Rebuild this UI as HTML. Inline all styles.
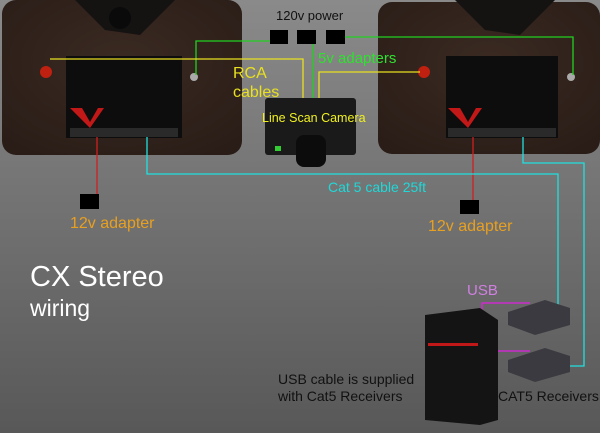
<!DOCTYPE html>
<html><head><style>body{margin:0;background:#6e6e6e}svg{display:block}</style></head><body>
<svg width="600" height="433" xmlns="http://www.w3.org/2000/svg" font-family="Liberation Sans, sans-serif">
<defs>
<linearGradient id="bg" x1="0" y1="0" x2="0" y2="1"><stop offset="0" stop-color="#8a8a8a"/><stop offset="1" stop-color="#585858"/></linearGradient>
<radialGradient id="dev" cx="0.5" cy="0.4" r="0.7"><stop offset="0" stop-color="#3a2a22"/><stop offset="1" stop-color="#2a1d17"/></radialGradient>
</defs>
<rect width="600" height="433" fill="url(#bg)"/>
<!-- left device -->
<rect x="2" y="0" width="240" height="155" rx="14" fill="url(#dev)"/>
<rect x="66" y="56" width="116" height="82" fill="#0e0d0d"/>
<rect x="70" y="128" width="108" height="9" fill="#2a2a2a"/>
<path d="M70 108 L82 108 L90 122 L98 108 L104 108 L90 128 Z" fill="#c21818"/>
<circle cx="46" cy="72" r="6" fill="#c02010"/><circle cx="194" cy="77" r="4" fill="#aaa"/>
<path d="M75 0 L105 30 L140 35 L175 0 Z" fill="#151212"/>
<circle cx="120" cy="18" r="11" fill="#0a0a0a"/>
<!-- right device -->
<rect x="378" y="2" width="222" height="152" rx="14" fill="url(#dev)"/>
<rect x="446" y="56" width="112" height="82" fill="#0e0d0d"/>
<rect x="448" y="128" width="108" height="9" fill="#2a2a2a"/>
<path d="M448 108 L460 108 L468 122 L476 108 L482 108 L468 128 Z" fill="#c21818"/>
<circle cx="424" cy="72" r="6" fill="#c02010"/><circle cx="571" cy="77" r="4" fill="#aaa"/>
<path d="M455 0 L485 30 L520 35 L555 0 Z" fill="#151212"/>
<!-- camera -->
<rect x="265" y="98" width="91" height="57" rx="3" fill="#1a1a1a"/>
<rect x="296" y="135" width="30" height="32" rx="8" fill="#0c0c0c"/>
<rect x="275" y="146" width="6" height="5" fill="#3c3"/>
<!-- wires -->
<g fill="none" stroke-width="1.3">
<polyline points="270,41 196,41 196,75" stroke="#20d020"/>
<polyline points="313,44 313,98" stroke="#20d020"/>
<polyline points="345,37 573,37 573,75" stroke="#20d020"/>
<polyline points="50,59 303,59 303,98" stroke="#e8e020"/>
<polyline points="319,98 319,72 420,72" stroke="#e8e020"/>
<polyline points="97,137 97,194" stroke="#d02020"/>
<polyline points="473,137 473,200" stroke="#d02020"/>
<polyline points="147,137 147,174 558,174 558,305" stroke="#20e0e0"/>
<polyline points="523,137 523,163 584,163 584,366 560,366" stroke="#20e0e0"/>
<polyline points="482,313 482,303 530,303" stroke="#e020e0"/>
<polyline points="498,351 530,351" stroke="#e020e0"/>
</g>
<rect x="270" y="30" width="18" height="14"/><rect x="297" y="30" width="19" height="14"/><rect x="326" y="30" width="19" height="14"/>
<rect x="80" y="194" width="19" height="15"/><rect x="460" y="200" width="19" height="14"/>
<!-- PC -->
<path d="M425 315 L480 308 L498 320 L498 420 L480 425 L425 420 Z" fill="#141414"/>
<rect x="428" y="343" width="50" height="3" fill="#c01818"/>
<!-- receivers -->
<path d="M508 312 L545 300 L570 308 L570 325 L535 335 L508 325 Z" fill="#3a3a40"/>
<path d="M508 360 L545 348 L570 356 L570 372 L535 382 L508 372 Z" fill="#3a3a40"/>
<!-- text -->
<text x="276" y="20" font-size="13" fill="#111">120v power</text>
<text x="318" y="63" font-size="15" fill="#30e030">5v adapters</text>
<text x="233" y="78" font-size="16" fill="#e8e020">RCA</text>
<text x="233" y="97" font-size="16" fill="#e8e020">cables</text>
<text x="262" y="122" font-size="12.5" fill="#f0f020">Line Scan Camera</text>
<text x="328" y="192" font-size="14" fill="#20d8d8">Cat 5 cable 25ft</text>
<text x="70" y="228" font-size="16" fill="#e8a020">12v adapter</text>
<text x="428" y="231" font-size="16" fill="#e8a020">12v adapter</text>
<text x="30" y="286" font-size="29" fill="#fff">CX Stereo</text>
<text x="30" y="316" font-size="23" fill="#fff">wiring</text>
<text x="467" y="295" font-size="15" fill="#d080e0">USB</text>
<text x="278" y="384" font-size="14" fill="#111">USB cable is supplied</text>
<text x="278" y="401" font-size="14" fill="#111">with Cat5 Receivers</text>
<text x="498" y="401" font-size="14" fill="#111">CAT5 Receivers</text>
</svg>
</body></html>
